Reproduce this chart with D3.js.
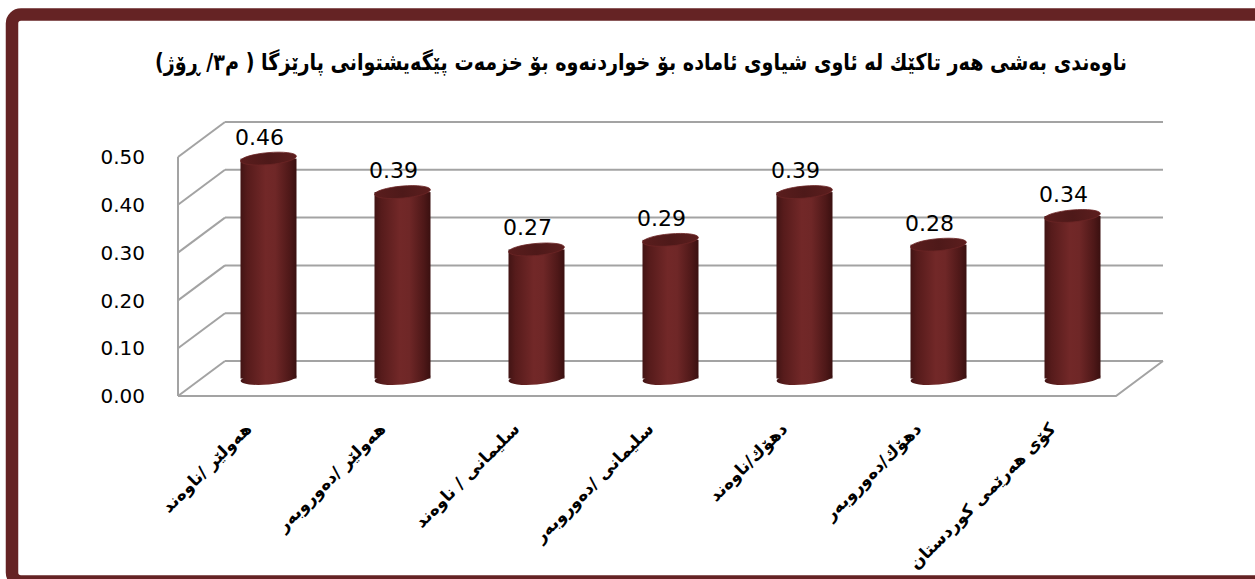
<!DOCTYPE html>
<html>
<head>
<meta charset="utf-8">
<script src="https://cdn.jsdelivr.net/npm/d3@7"></script>
<style>
body { margin: 0; background: #fff; }
svg { display: block; }
</style>
</head>
<body>
<svg></svg>
<script>
const svgWidth = 1255;
const svgHeight = 579;

const title = "ناوەندی بەشی هەر تاکێك لە ئاوی شیاوی ئامادە بۆ خواردنەوە بۆ خزمەت پێگەیشتوانی پارێزگا ( م٣/ ڕۆژ)";
const categories = [
	"هەولێر /ناوەند",
	"هەولێر /دەوروبەر",
	"سلیمانی / ناوەند",
	"سلیمانی /دەوروبەر",
	"دهۆك/ناوەند",
	"دهۆك/دەوروبەر",
	"كۆی هەرێمی كوردستان"
];
const values = [0.46, 0.39, 0.27, 0.29, 0.39, 0.28, 0.34];
const yTicks = [0, 0.1, 0.2, 0.3, 0.4, 0.5];

const depthX = 47;
const depthY = -35;
const barWidth = 56;

const svg = d3.select("svg")
				.attr("width", svgWidth)
				.attr("height", svgHeight);

let xScale = d3.scaleBand()
				.domain(categories)
				.range([178, 1116]);
let yScale = d3.scaleLinear()
				.domain([0, 0.5])
				.range([396, 157]);

// gradients for the cylinders
const defs = svg.append("defs");
const bodyGrad = defs.append("linearGradient")
	.attr("id", "body")
	.attr("x1", "0%").attr("x2", "100%")
	.attr("y1", "0%").attr("y2", "0%");
[["0%", "#421414"], ["12%", "#561b1b"], ["45%", "#722828"], ["62%", "#6f2727"], ["88%", "#4e1818"], ["100%", "#3a1010"]]
	.forEach(s => bodyGrad.append("stop").attr("offset", s[0]).attr("stop-color", s[1]));
const topGrad = defs.append("linearGradient")
	.attr("id", "top")
	.attr("x1", "0%").attr("x2", "100%")
	.attr("y1", "0%").attr("y2", "0%");
[["0%", "#5a1d1d"], ["50%", "#4e1919"], ["100%", "#5c1e1e"]]
	.forEach(s => topGrad.append("stop").attr("offset", s[0]).attr("stop-color", s[1]));

// frame
svg.append("rect")
	.attr("x", 12)
	.attr("y", 14.5)
	.attr("width", 1270)
	.attr("height", 567)
	.attr("rx", 9)
	.attr("fill", "#fff")
	.attr("stroke", "#652324")
	.attr("stroke-width", 12.5);

// Plot title
svg
	.append("text")
	.text(title)
	.attr("x", 641)
	.attr("y", 70)
	.attr("direction", "rtl")
	.attr("font-family", "DejaVu Sans")
	.attr("font-weight", "bold")
	.attr("font-size", "23px")
	.attr("textLength", 972)
	.attr("lengthAdjust", "spacingAndGlyphs")
	.attr("text-anchor", "middle");

const grid = svg.append("g")
	.attr("stroke", "#a3a3a3")
	.attr("stroke-width", 2)
	.attr("fill", "none");

const x0 = xScale.range()[0];
const x1 = xScale.range()[1];

// back wall and left wall lines
yTicks.forEach(t => {
	grid.append("line")
		.attr("x1", x0 + depthX).attr("x2", x1 + depthX)
		.attr("y1", yScale(t) + depthY).attr("y2", yScale(t) + depthY);
	grid.append("line")
		.attr("x1", x0).attr("x2", x0 + depthX)
		.attr("y1", yScale(t)).attr("y2", yScale(t) + depthY);
});
grid.append("line")
	.attr("x1", x0).attr("x2", x0)
	.attr("y1", yScale(0.5)).attr("y2", yScale(0));
// floor
grid.append("path")
	.attr("d", `M${x0},${yScale(0)}H${x1}l${depthX},${depthY}`);

// Y axis labels
svg
	.selectAll(".ytick")
	.data(yTicks)
	.enter()
	.append("text")
		.attr("class", "ytick")
		.text(d => d3.format(".2f")(d))
		.attr("x", 145)
		.attr("y", d => yScale(d))
		.attr("dy", "0.36em")
		.attr("font-family", "DejaVu Sans")
		.attr("font-size", "20px")
		.attr("text-anchor", "end");

// cylinders
const cx = d => xScale(d) + xScale.bandwidth() / 2 + depthX / 2;
const cy = v => yScale(v) + depthY / 2;
const ry = 6;
const bars = svg.selectAll(".bar")
	.data(categories.map((c, i) => ({ c: c, v: values[i] })))
	.enter()
	.append("g")
		.attr("class", "bar");

bars.append("ellipse")
	.attr("cx", d => cx(d.c))
	.attr("cy", cy(0))
	.attr("rx", barWidth / 2)
	.attr("ry", ry)
	.attr("transform", d => `rotate(-5, ${cx(d.c)}, ${cy(0)})`)
	.attr("fill", "url(#body)");
bars.append("rect")
	.attr("x", d => cx(d.c) - barWidth / 2)
	.attr("y", d => cy(d.v))
	.attr("width", barWidth)
	.attr("height", d => cy(0) - cy(d.v))
	.attr("fill", "url(#body)");
bars.append("ellipse")
	.attr("cx", d => cx(d.c))
	.attr("cy", d => cy(d.v))
	.attr("rx", barWidth / 2)
	.attr("ry", ry)
	.attr("transform", d => `rotate(-5, ${cx(d.c)}, ${cy(d.v)})`)
	.attr("fill", "url(#top)")
	.attr("stroke", "#6a2424")
	.attr("stroke-width", 0.8);

// value labels
bars.append("text")
	.text(d => d3.format(".2f")(d.v))
	.attr("x", d => cx(d.c) - 9)
	.attr("y", d => cy(d.v) - ry - 8)
	.attr("font-family", "DejaVu Sans")
	.attr("font-size", "22px")
	.attr("text-anchor", "middle");

// X axis labels
svg
	.selectAll(".xlabel")
	.data(categories)
	.enter()
	.append("text")
		.attr("class", "xlabel")
		.text(d => d)
		.attr("transform", d => `translate(${cx(d) - 16}, 430) rotate(-45)`)
		.attr("direction", "rtl")
		.attr("font-family", "DejaVu Sans")
		.attr("font-weight", "bold")
		.attr("font-size", "17px")
		.attr("text-anchor", "start");
</script>
</body>
</html>
